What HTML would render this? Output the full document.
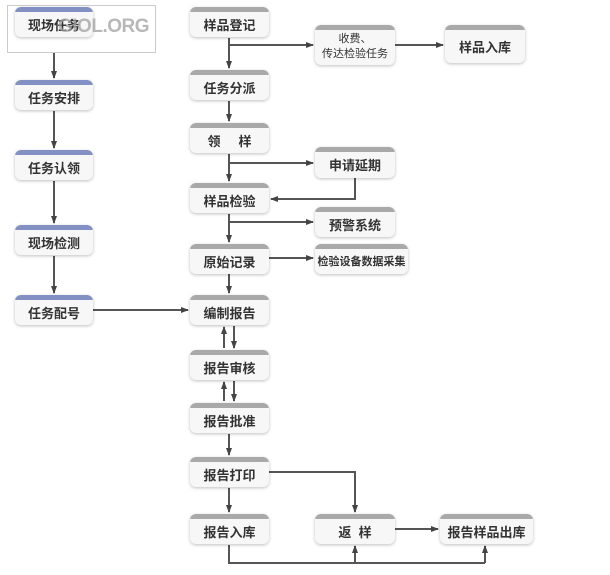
<!DOCTYPE html>
<html><head><meta charset="utf-8"><style>
body{margin:0;background:#fff;}
.n{position:absolute;height:30px;border-radius:6px;background:#f7f7f7;box-shadow:0 1px 3px rgba(0,0,0,.25);font:bold 13px "Liberation Sans","Noto Sans CJK SC",sans-serif;color:#333;display:flex;align-items:center;justify-content:center;padding-top:4px;box-sizing:border-box;overflow:hidden}
.n::before{content:"";position:absolute;left:0;top:0;right:0;height:5px;background:#a9a9a9;border-radius:6px 6px 0 0}
.b::before{background:#8290c4}
</style></head><body>
<div style="position:relative;width:610px;height:575px;">
<svg width="610" height="575" style="position:absolute;left:0;top:0">
<defs><marker id="a" markerWidth="8" markerHeight="8" refX="7" refY="4" orient="auto" markerUnits="userSpaceOnUse"><path d="M0,1 L8,4 L0,7 z" fill="#444"/></marker></defs>
<g stroke="#555" stroke-width="2" fill="none" marker-end="url(#a)">
<line x1="54" y1="52" x2="54" y2="78"/>
<line x1="54" y1="111" x2="54" y2="148"/>
<line x1="54" y1="181" x2="54" y2="223"/>
<line x1="54" y1="256" x2="54" y2="293"/>
<line x1="93" y1="310" x2="188" y2="310"/>
<line x1="229" y1="38" x2="229" y2="68"/>
<polyline points="229,45 313,45"/>
<line x1="395" y1="45" x2="443" y2="45"/>
<line x1="229" y1="101" x2="229" y2="121"/>
<line x1="229" y1="154" x2="229" y2="181"/>
<polyline points="229,163 313,163"/>
<polyline points="355,178 355,199 271,199"/>
<line x1="229" y1="214" x2="229" y2="242"/>
<polyline points="229,222 313,222"/>
<line x1="269" y1="258" x2="313" y2="258"/>
<line x1="229" y1="274" x2="229" y2="293"/>
<line x1="224" y1="348" x2="224" y2="327"/>
<line x1="234" y1="326" x2="234" y2="348"/>
<line x1="224" y1="401" x2="224" y2="382"/>
<line x1="234" y1="381" x2="234" y2="401"/>
<line x1="229" y1="434" x2="229" y2="455"/>
<line x1="229" y1="488" x2="229" y2="512"/>
<polyline points="269,472 355,472 355,512"/>
<line x1="395" y1="529" x2="438" y2="529"/>
<line x1="355" y1="563" x2="355" y2="546"/>
<line x1="485" y1="563" x2="485" y2="546"/>
</g>
<polyline points="229,545 229,563 485,563" stroke="#555" stroke-width="2" fill="none"/>
<rect x="7.5" y="5.5" width="148" height="47" fill="none" stroke="#ccc"/>
</svg>
<div class="n b" style="left:15px;top:7px;width:78px">现场任务</div>
<div style="position:absolute;left:58px;top:16px;font:bold 19px 'Liberation Sans',sans-serif;color:rgba(160,160,160,.75);letter-spacing:-0.5px">GIOL.ORG</div>
<div class="n b" style="left:15px;top:80px;width:78px">任务安排</div>
<div class="n b" style="left:15px;top:150px;width:78px">任务认领</div>
<div class="n b" style="left:15px;top:225px;width:78px">现场检测</div>
<div class="n b" style="left:15px;top:295px;width:78px">任务配号</div>
<div class="n" style="left:190px;top:7px;width:79px">样品登记</div>
<div class="n" style="left:190px;top:70px;width:79px">任务分派</div>
<div class="n" style="left:190px;top:123px;width:79px">领&nbsp;&nbsp;&nbsp;&nbsp;&nbsp;样</div>
<div class="n" style="left:190px;top:183px;width:79px">样品检验</div>
<div class="n" style="left:190px;top:244px;width:79px">原始记录</div>
<div class="n" style="left:190px;top:295px;width:79px">编制报告</div>
<div class="n" style="left:190px;top:350px;width:79px">报告审核</div>
<div class="n" style="left:190px;top:403px;width:79px">报告批准</div>
<div class="n" style="left:190px;top:457px;width:79px">报告打印</div>
<div class="n" style="left:190px;top:514px;width:79px">报告入库</div>
<div class="n" style="left:315px;top:25px;width:80px;height:40px;font-size:11px;font-weight:normal;line-height:15px;text-align:center">收费、<br>传达检验任务</div>
<div class="n" style="left:445px;top:25px;width:80px;height:38px">样品入库</div>
<div class="n" style="left:315px;top:147px;width:80px;height:31px">申请延期</div>
<div class="n" style="left:315px;top:207px;width:80px">预警系统</div>
<div class="n" style="left:315px;top:244px;width:93px;font-size:11px">检验设备数据采集</div>
<div class="n" style="left:315px;top:514px;width:80px">返&nbsp;&nbsp;样</div>
<div class="n" style="left:440px;top:514px;width:93px">报告样品出库</div>
</div>
</body></html>
